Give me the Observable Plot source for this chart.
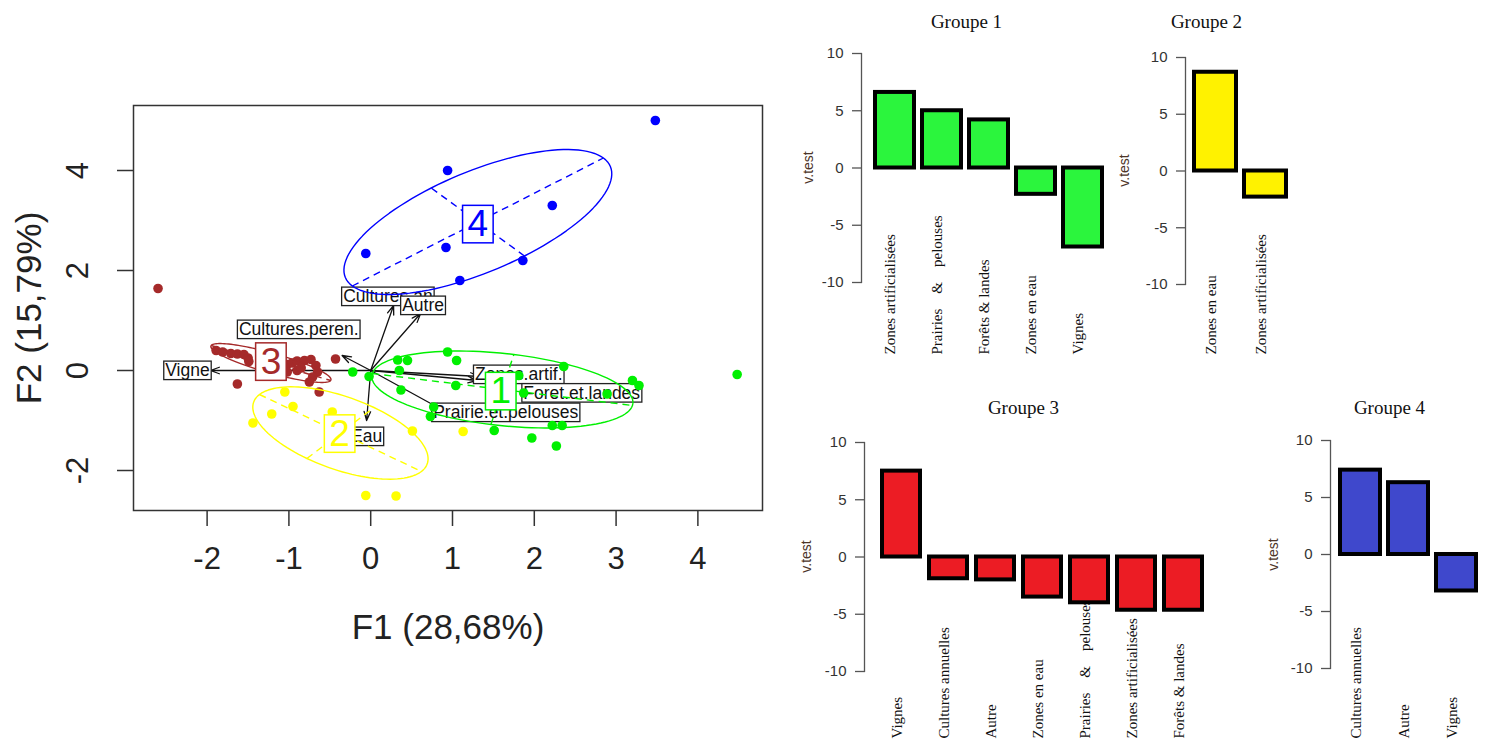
<!DOCTYPE html>
<html><head><meta charset="utf-8">
<script src="https://cdn.jsdelivr.net/npm/d3@7"></script>
<script src="https://cdn.jsdelivr.net/npm/@observablehq/plot@0.6"></script>
<style>
body{margin:0;background:#fff;}
#root{position:relative;width:1491px;height:742px;overflow:hidden;background:#fff;}
#root > svg{position:absolute;}
</style></head><body><div id="root"></div>
<script>
// ---------------- DATA ----------------
// Factor map (F1, F2) — individuals per cluster
const groupIds = [1, 2, 3, 4];
const pts1 = [[0.94,0.37],[1.05,0.2],[0.33,0.21],[0.45,0.2],[-0.22,-0.03],[-0.02,-0.12],[0.35,0.0],[0.37,-0.39],[1.04,-0.3],[0.77,-0.73],[0.73,-0.92],[2.36,0.08],[1.81,-0.1],[1.87,-0.45],[2.89,-0.47],[3.2,-0.2],[3.28,-0.3],[1.51,-1.2],[2.22,-1.1],[2.34,-1.1],[1.97,-1.35],[2.27,-1.51],[4.48,-0.08]];
const pts2 = [[-1.05,-0.43],[-0.95,-0.72],[-1.21,-0.87],[-1.44,-1.05],[-0.47,-0.83],[0.51,-1.21],[-0.06,-2.5],[0.31,-2.51],[1.13,-1.22]];
const pts3 = [[-2.6,1.64],[-1.89,0.4],[-1.81,0.37],[-1.71,0.34],[-1.63,0.33],[-1.55,0.32],[-1.5,0.25],[-1.49,0.18],[-1.63,-0.27],[-1.02,0.12],[-0.96,0.15],[-0.9,0.19],[-0.81,0.2],[-0.73,0.22],[-0.67,0.1],[-0.65,-0.03],[-0.71,-0.13],[-0.75,-0.23],[-0.63,-0.43],[-0.43,0.23],[-0.9,0.0],[-1.02,-0.03],[-0.85,0.05],[-1.05,0.05]];
const pts4 = [[0.94,4.0],[3.48,5.0],[2.22,3.3],[-0.06,2.34],[0.92,2.46],[1.86,2.2],[1.09,1.8]];
// confidence ellipses: centre, half principal axis A, half principal axis B
const ellCx = [1.61, -0.37, -1.22, 1.31];
const ellCy = [-0.38, -1.25, 0.15, 2.97];
const ellAx = [1.59, 0.99, 0.73, 1.535];
const ellAy = [-0.32, -0.77, -0.35, 1.28];
const ellBx = [0.14, 0.41, 0.08, -0.57];
const ellBy = [0.7, 0.51, 0.17, 0.68];
// cluster label positions
const groupLabelX = [1.59, -0.38, -1.22, 1.31];
const groupLabelY = [-0.42, -1.27, 0.17, 2.92];
// variables (arrows + boxed labels)
const varNames  = ["Cultures.peren.", "Vigne", "Cultures.an", "Autre", "Eau", "Zones.artif.", "Foret.et.landes", "Prairie.et.pelouses"];
const varArrowX = [-0.35, -1.96, 0.28, 0.61, -0.05, 1.33, 1.3, 0.89];
const varArrowY = [0.3, 0.0, 1.3, 1.14, -1.0, -0.12, -0.2, -0.8];
const varLabelX = [-0.88, -2.24, 0.21, 0.64, -0.05, 1.81, 2.58, 1.65];
const varLabelY = [0.82, 0.0, 1.48, 1.3, -1.32, -0.08, -0.45, -0.84];
const xTicks = [-2, -1, 0, 1, 2, 3, 4];
const yTicks = [-2, 0, 2, 4];
const xTitle = "F1 (28,68%)";
const yTitle = "F2 (15,79%)";

// v.test bar charts
const barTicks = [-10, -5, 0, 5, 10];
const nb = "\u00a0";
const prairies = "Prairies" + nb.repeat(4) + "&" + nb.repeat(4) + "pelouses";
const g1Cats = ["Zones artificialisées", prairies, "Forêts & landes", "Zones en eau", "Vignes"];
const g1Vals = [6.6, 5.0, 4.2, -2.3, -6.9];
const g2Cats = ["Zones en eau", "Zones artificialisées"];
const g2Vals = [8.7, -2.3];
const g3Cats = ["Vignes", "Cultures annuelles", "Autre", "Zones en eau", prairies, "Zones artificialisées", "Forêts & landes"];
const g3Vals = [7.5, -1.9, -2.0, -3.5, -4.0, -4.65, -4.65];
const g4Cats = ["Cultures annuelles", "Autre", "Vignes"];
const g4Vals = [7.4, 6.3, -3.2];
const panelTitles = ["Groupe 1", "Groupe 2", "Groupe 3", "Groupe 4"];
const yLabel = "v.test";

// ---------------- STYLE ----------------
const sans = "'Liberation Sans', Arial, Helvetica, sans-serif";
const serif = "'Liberation Serif', 'Times New Roman', serif";
const groupColors = ["#00f000", "#ffff00", "#a52a2a", "#0000ff"];
const barColors = ["#2bf53d", "#fff200", "#ec1c24", "#3f48cc"];

const root = document.getElementById("root");

// ---------------- SCATTER ----------------
const scatterRows = [pts1, pts2, pts3, pts4].flatMap((arr, gi) => arr.map(([x, y]) => ({x, y, g: groupIds[gi]})));
const ellRows = groupIds.flatMap((g, i) => d3.range(0, 361, 3).map(a => {
  const t = a * Math.PI / 180;
  return {g, x: ellCx[i] + ellAx[i] * Math.cos(t) + ellBx[i] * Math.sin(t),
             y: ellCy[i] + ellAy[i] * Math.cos(t) + ellBy[i] * Math.sin(t)};
}));
const ellAxes = groupIds.flatMap((g, i) => [
  {g, x1: ellCx[i] - ellAx[i], y1: ellCy[i] - ellAy[i], x2: ellCx[i] + ellAx[i], y2: ellCy[i] + ellAy[i]},
  {g, x1: ellCx[i] - ellBx[i], y1: ellCy[i] - ellBy[i], x2: ellCx[i] + ellBx[i], y2: ellCy[i] + ellBy[i]}
]);
const varRows = varNames.map((name, i) => ({name, ax: varArrowX[i], ay: varArrowY[i], lx: varLabelX[i], ly: varLabelY[i]}));
const groupRows = groupIds.map((g, i) => ({g, x: groupLabelX[i], y: groupLabelY[i]}));

const scatter = Plot.plot({
  width: 780, height: 660,
  marginLeft: 133, marginRight: 18, marginTop: 105, marginBottom: 150,
  x: {domain: [-2.9, 4.79], axis: null},
  y: {domain: [-2.8, 5.3], axis: null},
  color: {domain: groupIds, range: groupColors},
  style: {fontFamily: sans, background: "transparent", overflow: "visible"},
  marks: [
    Plot.frame({stroke: "#333", strokeWidth: 1.5}),
    Plot.axisX(xTicks, {anchor: "bottom", tickSize: 16, tickPadding: 20, fontSize: 31, tickFormat: d => String(d), label: null, fill: "#222", stroke: "#333", strokeWidth: 1.5}),
    Plot.axisY(yTicks, {anchor: "left", tickSize: 16, tickFormat: () => "", label: null, stroke: "#333", strokeWidth: 1.5}),
    // text groups, in order: 0 y tick labels, 1 x title, 2 y title, 3 variable labels, 4 cluster labels
    Plot.text(yTicks, {y: d => d, text: d => String(d), frameAnchor: "left", dx: -55, rotate: -90, textAnchor: "middle", lineAnchor: "middle", fontSize: 31, fill: "#222"}),
    Plot.text([xTitle], {text: d => d, frameAnchor: "bottom", dy: 117, textAnchor: "middle", lineAnchor: "middle", fontSize: 35, fill: "#222"}),
    Plot.text([yTitle], {text: d => d, frameAnchor: "left", dx: -104, rotate: -90, textAnchor: "middle", lineAnchor: "middle", fontSize: 35, fill: "#222"}),
    Plot.arrow(varRows, {x1: () => 0, y1: () => 0, x2: "ax", y2: "ay", stroke: "#111", strokeWidth: 1.3, headLength: 11, headAngle: 40}),
    Plot.text(varRows, {x: "lx", y: "ly", text: "name", fontSize: 17.5, fill: "#111"}),
    Plot.dot(scatterRows, {x: "x", y: "y", fill: "g", r: 4.8}),
    Plot.line(ellRows, {x: "x", y: "y", z: "g", stroke: "g", strokeWidth: 1.4}),
    Plot.link(ellAxes, {x1: "x1", y1: "y1", x2: "x2", y2: "y2", stroke: "g", strokeWidth: 1.4, strokeDasharray: "7,5"}),
    Plot.text(groupRows, {x: "x", y: "y", text: d => String(d.g), fill: "g", fontSize: 37})
  ]
});
scatter.style.left = "0px"; scatter.style.top = "0px";
root.appendChild(scatter);

function boxLabels(group, padX, padTop, padBottom, strokeOf, sw) {
  if (!group) return;
  group.querySelectorAll("text").forEach(t => {
    const b = t.getBBox();
    const r = document.createElementNS("http://www.w3.org/2000/svg", "rect");
    r.setAttribute("x", b.x - padX);
    r.setAttribute("y", b.y + padTop);
    r.setAttribute("width", b.width + 2 * padX);
    r.setAttribute("height", b.height - padTop - padBottom);
    if (t.getAttribute("transform")) r.setAttribute("transform", t.getAttribute("transform"));
    r.setAttribute("fill", "white");
    r.setAttribute("stroke", strokeOf(t));
    r.setAttribute("stroke-width", sw);
    t.parentNode.insertBefore(r, t);
  });
}
const textGroups = scatter.querySelectorAll('g[aria-label="text"]');
boxLabels(textGroups[3], 1.5, 1, 0.5, () => "#222", 1.3);
boxLabels(textGroups[4], 5, 2, 1.5, t => t.getAttribute("fill") || "#000", 1.5);

// ---------------- BAR PANELS ----------------
const panels = [
  {cats: g1Cats, vals: g1Vals, left: 780, top: 0, w: 340, h: 370, axisX: 861, yTop: 53, yBot: 282, bandL: 865, bandR: 1113, pad: 0.167, titleX: 966, titleY: 21, vX: 808, vY: 167, labelBottom: 354},
  {cats: g2Cats, vals: g2Vals, left: 1120, top: 0, w: 190, h: 370, axisX: 1185, yTop: 57, yBot: 284, bandL: 1186, bandR: 1294, pad: 0.16, titleX: 1206, titleY: 21, vX: 1124, vY: 170, labelBottom: 354},
  {cats: g3Cats, vals: g3Vals, left: 780, top: 390, w: 450, h: 352, axisX: 864, yTop: 442, yBot: 671, bandL: 870, bandR: 1214, pad: 0.184, titleX: 1023, titleY: 407, vX: 806, vY: 556, labelBottom: 738},
  {cats: g4Cats, vals: g4Vals, left: 1240, top: 390, w: 251, h: 352, axisX: 1330, yTop: 440, yBot: 668, bandL: 1330.5, bandR: 1484.5, pad: 0.175, titleX: 1389, titleY: 407, vX: 1273, vY: 554, labelBottom: 738}
];

panels.forEach((p, i) => {
  const rows = p.cats.map((c, j) => ({cat: c, val: p.vals[j]}));
  const mL = p.axisX - p.left, mT = p.yTop - p.top, mB = p.top + p.h - p.yBot;
  const svg = Plot.plot({
    width: p.w, height: p.h,
    marginLeft: mL, marginTop: mT, marginBottom: mB, marginRight: 5,
    x: {type: "band", domain: p.cats, range: [p.bandL - p.left, p.bandR - p.left], padding: p.pad, axis: null},
    y: {domain: [-10, 10], axis: null},
    style: {fontFamily: sans, background: "transparent", overflow: "visible"},
    marks: [
      Plot.frame({anchor: "left", stroke: "#555", strokeWidth: 1.3}),
      Plot.axisY(barTicks, {anchor: "left", tickSize: 9, tickPadding: 9, fontSize: 15, tickFormat: d => String(d), label: null, fill: "#333", stroke: "#555", strokeWidth: 1.3}),
      Plot.text(p.cats, {x: d => d, text: d => d, frameAnchor: "bottom", dy: p.labelBottom - p.yBot, rotate: -90, textAnchor: "start", fontFamily: serif, fontSize: 15, fill: "#111"}),
      Plot.barY(rows, {x: "cat", y: "val", fill: barColors[i], stroke: "#000", strokeWidth: 4}),
      Plot.text([panelTitles[i]], {text: d => d, frameAnchor: "top-left", dx: p.titleX - p.axisX, dy: p.titleY - p.yTop, textAnchor: "middle", lineAnchor: "middle", fontFamily: serif, fontSize: 19, fill: "#111"}),
      Plot.text([yLabel], {text: d => d, frameAnchor: "top-left", dx: p.vX - p.axisX, dy: p.vY - p.yTop, rotate: -90, textAnchor: "middle", lineAnchor: "middle", fontSize: 14, fill: "#4d3528"})
    ]
  });
  svg.style.left = p.left + "px"; svg.style.top = p.top + "px";
  root.appendChild(svg);
});
</script>
</body></html>
